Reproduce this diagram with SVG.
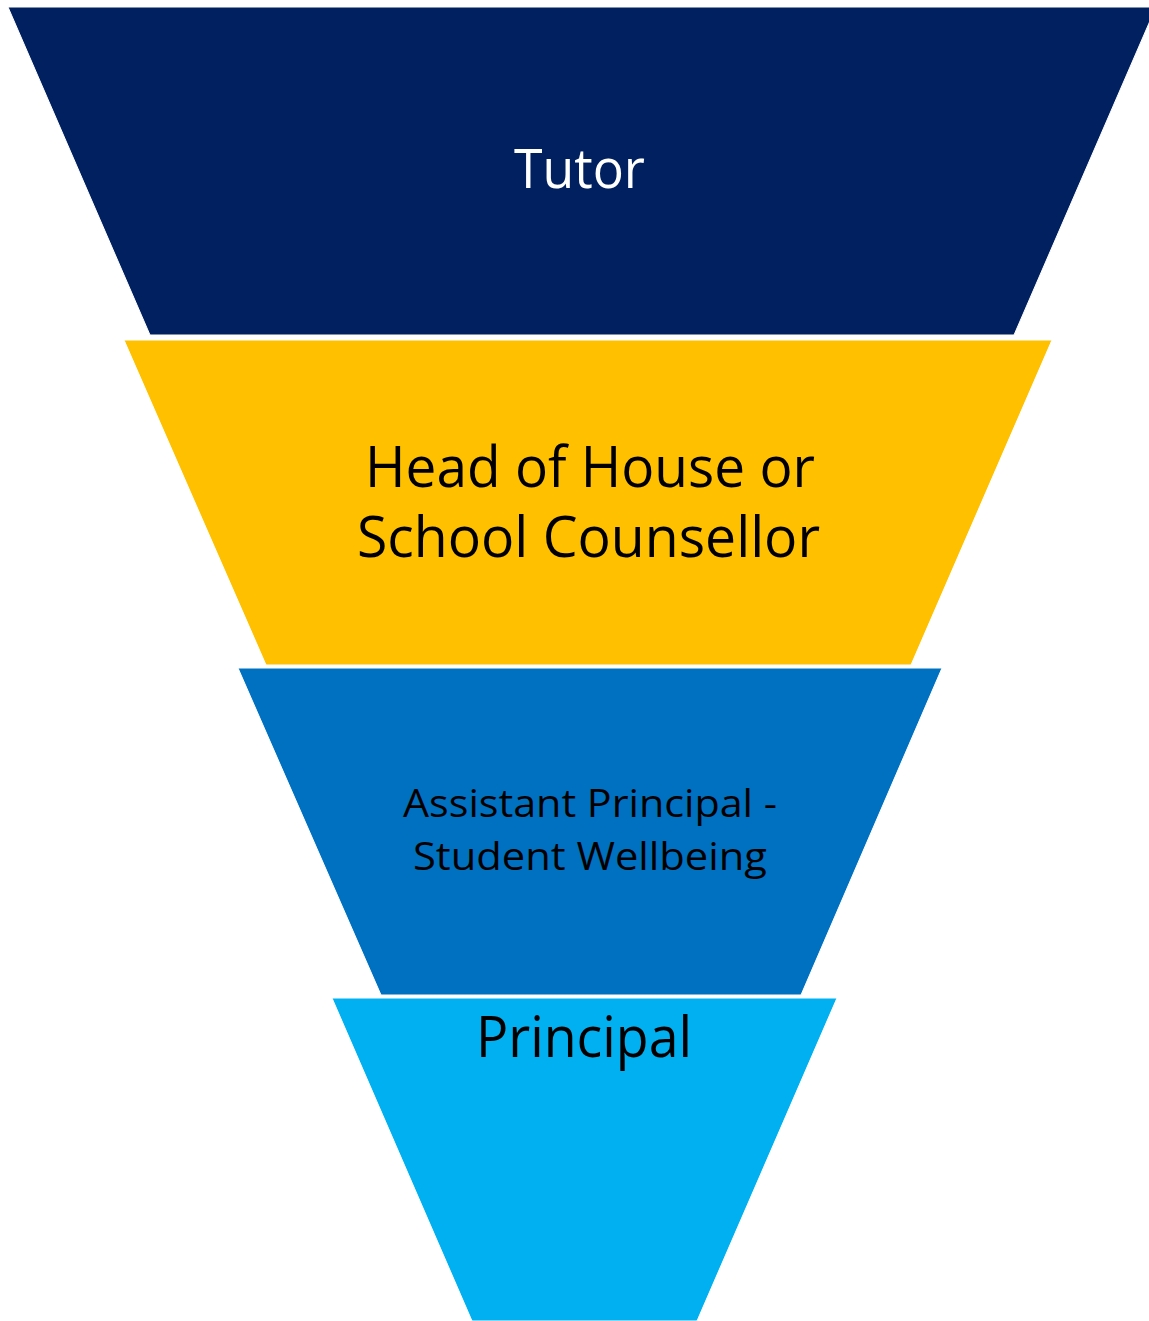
<svg xmlns="http://www.w3.org/2000/svg" width="1149" height="1321" viewBox="0 0 1149 1321">
<style>
.seg{stroke:#ffffff;stroke-width:1}
.lbl{font-family:"Open Sans","Noto Sans","Liberation Sans",sans-serif}
</style>
<rect x="0" y="0" width="1149" height="1321" fill="#ffffff"/>
<g id="node-tutor">
<polygon class="seg" points="8,7 1156,7 1014,335 150,335" fill="#002060"/>
<text class="lbl" x="514" y="188" font-size="55" fill="#ffffff" textLength="131" lengthAdjust="spacingAndGlyphs">Tutor</text>
</g>
<g id="node-head">
<polygon class="seg" points="124,340 1052,340 911,665 266,665" fill="#FFC000"/>
<text class="lbl" font-size="56" fill="#000000"><tspan x="365" y="487" textLength="450" lengthAdjust="spacingAndGlyphs">Head of House or</tspan><tspan x="357" y="557" textLength="463" lengthAdjust="spacingAndGlyphs">School Counsellor</tspan></text>
</g>
<g id="node-assistant">
<polygon class="seg" points="238,668 942,668 801,995 381,995" fill="#0070C0"/>
<text class="lbl" font-size="38" fill="#000000"><tspan x="403" y="817" textLength="374" lengthAdjust="spacingAndGlyphs">Assistant Principal -</tspan><tspan x="413" y="870" textLength="354" lengthAdjust="spacingAndGlyphs">Student Wellbeing</tspan></text>
</g>
<g id="node-principal">
<polygon class="seg" points="332,998 837,998 697,1321 472,1321" fill="#00B0F0"/>
<text class="lbl" x="476" y="1057" font-size="56" fill="#000000" textLength="216" lengthAdjust="spacingAndGlyphs">Principal</text>
</g>
<g id="connectors"></g>
</svg>
